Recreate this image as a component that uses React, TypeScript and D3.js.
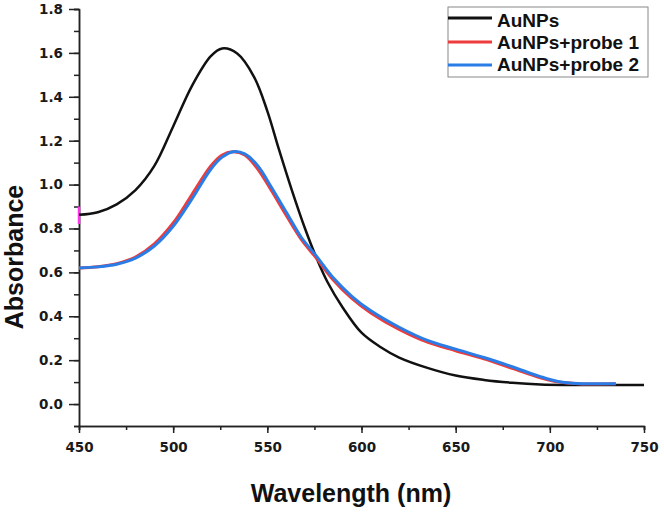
import React, { useEffect, useRef } from 'react';
import * as d3 from 'd3';

// Wavelength samples (nm) and absorbance values
const auNm = [450, 460, 470, 480, 490, 500, 510, 520, 526, 534, 543, 550, 556, 563, 570, 576, 582, 590, 600, 610, 620, 635, 650, 665, 680, 695, 710, 730, 750];
const auAbs = [0.862, 0.874, 0.91, 0.975, 1.085, 1.265, 1.45, 1.585, 1.62, 1.597, 1.49, 1.335, 1.165, 0.975, 0.8, 0.668, 0.555, 0.44, 0.325, 0.26, 0.212, 0.165, 0.13, 0.11, 0.097, 0.089, 0.087, 0.087, 0.087];

const probeNm = [450, 460, 470, 480, 490, 500, 510, 520, 526, 532, 538, 545, 552, 560, 568, 576, 585, 595, 605, 620, 635, 650, 665, 680, 695, 705, 715, 735];
const probe1Abs = [0.62, 0.626, 0.64, 0.67, 0.73, 0.825, 0.955, 1.085, 1.135, 1.15, 1.135, 1.07, 0.975, 0.86, 0.75, 0.665, 0.565, 0.48, 0.415, 0.34, 0.282, 0.243, 0.206, 0.163, 0.12, 0.1, 0.093, 0.092];
const probe2Abs = [0.62, 0.625, 0.637, 0.665, 0.72, 0.81, 0.935, 1.07, 1.125, 1.15, 1.14, 1.085, 0.99, 0.875, 0.76, 0.675, 0.575, 0.49, 0.425, 0.35, 0.29, 0.25, 0.212, 0.17, 0.125, 0.102, 0.094, 0.093];

const seriesNames = ['AuNPs', 'AuNPs+probe 1', 'AuNPs+probe 2'];
const seriesColors = ['#111111', '#ee3b3b', '#2a7de6'];

const xMajorTicks = [450, 500, 550, 600, 650, 700, 750];
const yMajorTicks = [0.0, 0.2, 0.4, 0.6, 0.8, 1.0, 1.2, 1.4, 1.6, 1.8];

// little magenta mark sitting on the y axis in the original
const markRange = [0.82, 0.9];

const W = 664;
const H = 517;

const App: React.FC = () => {
  const ref = useRef<SVGSVGElement>(null);

  useEffect(() => {
    if (!ref.current) return;
    const svg = d3.select(ref.current);
    svg.selectAll('*').remove();

    const x = d3.scaleLinear().domain([450, 750]).range([79, 644]);
    const y = d3.scaleLinear().domain([-0.1, 1.8]).range([426, 9]);

    const tickFont = '"DejaVu Sans", sans-serif';
    const titleFont = '"Liberation Sans", Arial, sans-serif';

    // minor ticks
    const xMinor = d3.range(450, 751, 25);
    const yMinor = d3.range(-1, 19).map(d => d / 10);

    svg.append('g')
      .attr('transform', `translate(0,${y(-0.1)})`)
      .call(d3.axisBottom(x).tickValues(xMinor).tickSize(4).tickFormat(() => ''))
      .call(g => g.selectAll('line,path').attr('stroke', '#222').attr('stroke-width', 1.5));

    svg.append('g')
      .attr('transform', `translate(${x(450)},0)`)
      .call(d3.axisLeft(y).tickValues(yMinor).tickSize(5).tickFormat(() => ''))
      .call(g => g.selectAll('line,path').attr('stroke', '#222').attr('stroke-width', 1.5));

    // major axes
    const xa = svg.append('g')
      .attr('transform', `translate(0,${y(-0.1)})`)
      .call(d3.axisBottom(x).tickValues(xMajorTicks).tickSize(7).tickSizeOuter(0).tickPadding(9).tickFormat(d3.format('d')));
    xa.selectAll('line,path').attr('stroke', '#222').attr('stroke-width', 1.5);
    xa.selectAll('text')
      .attr('font-family', tickFont).attr('font-weight', 'bold').attr('font-size', 13.5).attr('fill', '#1a1a1a');

    const ya = svg.append('g')
      .attr('transform', `translate(${x(450)},0)`)
      .call(d3.axisLeft(y).tickValues(yMajorTicks).tickSize(10).tickSizeOuter(0).tickPadding(6).tickFormat(d3.format('.1f')));
    ya.selectAll('line,path').attr('stroke', '#222').attr('stroke-width', 1.5);
    ya.selectAll('text')
      .attr('font-family', tickFont).attr('font-weight', 'bold').attr('font-size', 13.5).attr('fill', '#1a1a1a');

    // magenta mark
    svg.append('line')
      .attr('x1', x(450)).attr('x2', x(450))
      .attr('y1', y(markRange[0])).attr('y2', y(markRange[1]))
      .attr('stroke', '#ff33ee').attr('stroke-width', 2.5);

    // curves
    const line = d3.line<[number, number]>()
      .x(d => x(d[0]))
      .y(d => y(d[1]))
      .curve(d3.curveCatmullRom.alpha(0.5));

    const series: [number, number][][] = [
      auNm.map((n, i) => [n, auAbs[i]]),
      probeNm.map((n, i) => [n, probe1Abs[i]]),
      probeNm.map((n, i) => [n, probe2Abs[i]]),
    ];

    series.forEach((pts, i) => {
      svg.append('path')
        .datum(pts)
        .attr('d', line)
        .attr('fill', 'none')
        .attr('stroke', seriesColors[i])
        .attr('stroke-width', i === 0 ? 2.5 : 3);
    });

    // legend
    const lg = svg.append('g');
    lg.append('rect')
      .attr('x', 448).attr('y', 7).attr('width', 200).attr('height', 70)
      .attr('fill', 'white').attr('stroke', '#888').attr('stroke-width', 1);
    const lineYs = [18, 42, 65];
    const textYs = [27, 49, 71];
    seriesNames.forEach((name, i) => {
      lg.append('line')
        .attr('x1', 448).attr('x2', 492).attr('y1', lineYs[i]).attr('y2', lineYs[i])
        .attr('stroke', seriesColors[i]).attr('stroke-width', 3);
      lg.append('text')
        .attr('x', 497).attr('y', textYs[i])
        .attr('font-family', titleFont).attr('font-weight', 'bold').attr('font-size', 19)
        .attr('fill', '#111')
        .text(name);
    });

    // axis titles
    svg.append('text')
      .attr('transform', `translate(23,257) rotate(-90)`)
      .attr('text-anchor', 'middle')
      .attr('font-family', titleFont).attr('font-weight', 'bold').attr('font-size', 25)
      .attr('fill', '#111')
      .text('Absorbance');

    svg.append('text')
      .attr('x', 351).attr('y', 502)
      .attr('text-anchor', 'middle')
      .attr('font-family', titleFont).attr('font-weight', 'bold').attr('font-size', 25)
      .attr('fill', '#111')
      .text('Wavelength (nm)');
  }, []);

  return (
    <svg
      ref={ref}
      width={W}
      height={H}
      style={{ position: 'absolute', left: 0, top: 0, background: 'white' }}
    />
  );
};

export default App;
